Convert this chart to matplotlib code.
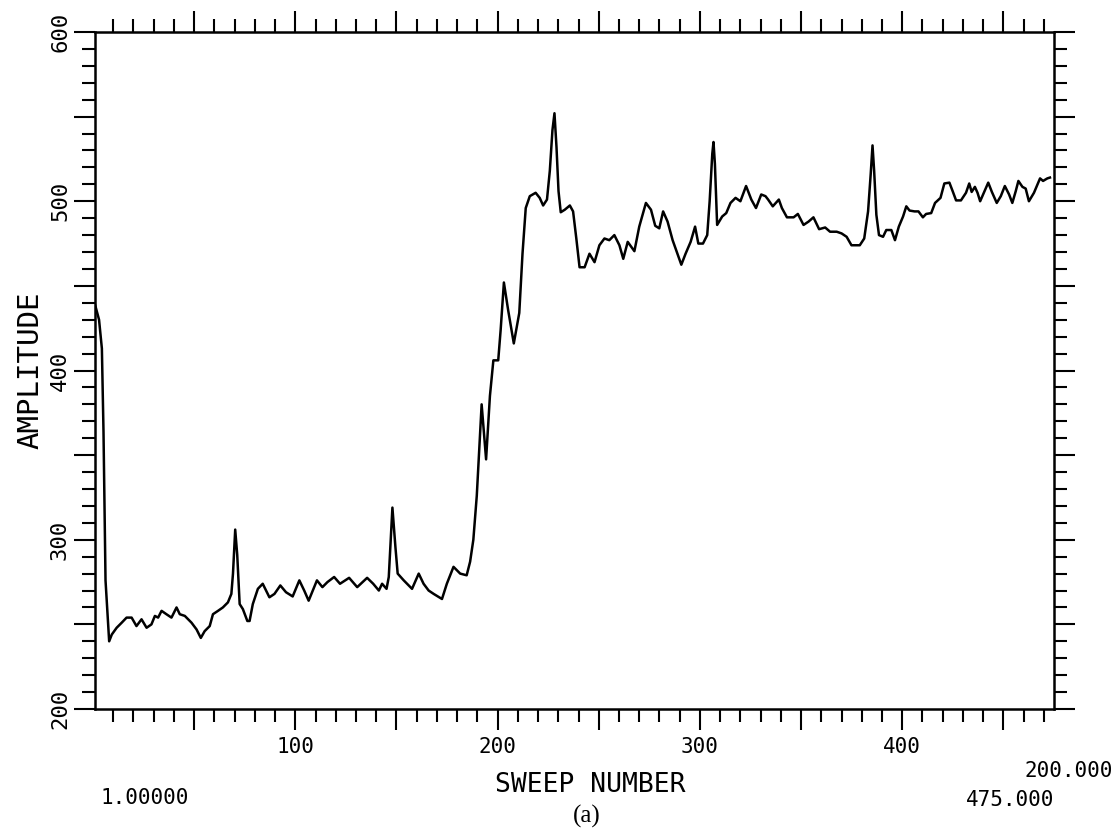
import matplotlib
matplotlib.use('Agg')
import matplotlib.pyplot as plt
from matplotlib.ticker import MultipleLocator, FuncFormatter

# ---- data ----
sweep = [1, 3, 4.4, 5.2, 6.2, 8.0, 9.3, 11.7, 14.2, 16.6, 19.1, 21.5, 24, 26.5, 28.9,
         30.6, 32.2, 33.9, 36.3, 38.8, 41.3, 42.9, 45.4, 48.7, 51.2, 53.3, 55.2, 57.7,
         59.3, 61.8, 64.2, 66.7, 68.4, 69.2, 70.3, 71.3, 72.5, 74.1, 76.3, 77.4, 79,
         81.5, 83.9, 87.2, 89.7, 92.6, 95.4, 98.7, 102, 104.4, 106.6, 110.7, 113.4,
         115.9, 119.2, 122.1, 126.6, 130.6, 135.5, 138.5, 141.3, 142.9, 145.1, 146.2,
         148, 149.5, 150.6, 153.6, 156.1, 157.7, 161, 163.4, 165.9, 168.4, 172.5,
         174.9, 178.2, 181.5, 184.7, 186.4, 188, 189.7, 192.1, 194.3, 196.2, 197.9,
         200.3, 201.5, 203.1, 205.2, 208, 210.7, 212.3, 213.9, 215.9, 218.8, 220.8,
         222.5, 224.4, 225.8, 227.1, 228.1, 229.1, 230.1, 231.2, 233.2, 235.7, 237.3,
         238.9, 240.5, 243, 245.4, 247.9, 250.3, 252.8, 255.2, 257.7, 260.2, 262.1,
         264.3, 267.6, 270, 273.3, 275.8, 277.9, 279.9, 281.8, 284, 286.5, 288.9,
         290.8, 292.9, 295.4, 297.6, 299.2, 301.5, 303.6, 304.8, 306.1, 306.7, 307.4,
         308.5, 311, 313, 315.1, 317.6, 320, 322.8, 325.4, 327.7, 330.3, 332.4, 333.7,
         336, 339, 340.5, 343, 346.3, 348.4, 351.2, 353.7, 356.1, 358.9, 361.9, 364.3,
         367.6, 370, 372.5, 374.9, 379, 381.2, 383.1, 384.4, 385.3, 386.1, 387.2,
         388.5, 390.5, 392.1, 394.6, 396.4, 398.3, 400.4, 402, 403.6, 406.1, 408,
         410.2, 411.8, 414.3, 416.2, 418.9, 420.8, 423.3, 424.9, 426.6, 429, 431.5,
         433.1, 434.3, 435.9, 437.2, 438.5, 440.5, 442.5, 444.3, 446.7, 448.7, 450.7,
         452.8, 454.4, 456.1, 457.4, 459.4, 461, 462.6, 465.1, 468.1, 469.6, 471.7, 473]
amplitude = [439, 430, 413, 364, 276, 240, 244, 248, 251, 254, 254, 249, 253, 248, 250,
             255, 254, 258, 256, 254, 260, 256, 255, 251, 247, 242, 246, 249,
             256, 258, 260, 263, 268, 280, 306, 291, 262, 259, 252, 252, 262,
             271, 274, 266, 268, 273, 269, 266.5, 276, 270, 264, 276, 272,
             275, 278, 274, 277.5, 272, 277.5, 274, 270, 274, 271, 278,
             319, 295.5, 280, 276, 273, 271, 280, 274, 270, 268, 265,
             274, 284, 280, 279, 287, 300, 326, 380, 347.5, 385, 406,
             406, 424, 452, 435.7, 416, 434, 469, 496, 503, 505, 502,
             497.5, 501, 518, 542, 552, 532, 506, 493.5, 495, 497.5, 494,
             478, 461, 461, 469, 464, 474, 478, 477, 480, 474, 466,
             476, 470.5, 485, 499, 495, 485.5, 484, 494, 488, 477, 469,
             462.5, 469, 476, 485, 475, 475, 480, 500, 528, 535, 522,
             486, 491, 493, 499, 502, 500, 509, 501, 496, 504, 503, 501,
             497, 501, 496, 490.5, 490.5, 492.5, 486, 488, 490.5, 483.5, 484.5, 482,
             482, 481, 479, 474, 474, 478, 494, 516, 533, 518, 492,
             480, 479, 483, 483, 477, 485, 491, 497, 494.5, 494, 494,
             490.5, 492.5, 493, 499, 502, 510.5, 511, 506, 500.5, 500.5, 505,
             510.5, 505.5, 508.5, 505, 500, 505.5, 511, 505.5, 499, 503, 509,
             504, 499, 506, 512, 508.5, 507.5, 500, 505, 513.5, 512, 513.5, 514]

x_min, x_max = 1, 475
y_min, y_max = 200, 600
x_label = 'SWEEP NUMBER'
y_label = 'AMPLITUDE'
corner_texts = ['1.00000', '475.000', '200.000']
caption = '(a)'

# ---- figure ----
W, H = 1118, 833
mono = 'DejaVu Sans Mono'
plt.rcParams['font.family'] = mono

fig = plt.figure(figsize=(W / 100, H / 100), dpi=100)
ax = fig.add_axes([95 / W, 1 - 709 / H, (1054 - 95) / W, (709 - 32) / H])

ax.plot(sweep, amplitude, color='black', lw=1.8, solid_joinstyle='round')
ax.set_xlim(x_min, x_max)
ax.set_ylim(y_min, y_max)

ax.xaxis.set_major_locator(MultipleLocator(50))
ax.xaxis.set_minor_locator(MultipleLocator(10))
ax.yaxis.set_major_locator(MultipleLocator(50))
ax.yaxis.set_minor_locator(MultipleLocator(10))
fmt = FuncFormatter(lambda v, p: f'{int(round(v))}' if round(v) % 100 == 0 else '')
ax.xaxis.set_major_formatter(fmt)
ax.yaxis.set_major_formatter(fmt)

for s in ax.spines.values():
    s.set_linewidth(1.8)
ax.tick_params(which='both', direction='out', top=True, right=True,
               width=1.5, colors='black')
ax.tick_params(which='major', length=15)
ax.tick_params(which='minor', length=9.5)
ax.tick_params(axis='x', labelsize=15, pad=5)
ax.tick_params(axis='y', labelsize=16, pad=3, labelrotation=90)
plt.setp(ax.get_yticklabels(), va='center')

fig.text(30 / W, 1 - 370 / H, y_label, rotation=90, ha='center', va='center', fontsize=21)
fig.text(590 / W, 1 - 785 / H, x_label, ha='center', va='center', fontsize=19)
fig.text(145 / W, 1 - 798 / H, corner_texts[0], ha='center', va='center', fontsize=15)
fig.text(1010 / W, 1 - 800 / H, corner_texts[1], ha='center', va='center', fontsize=15)
fig.text(1069 / W, 1 - 771 / H, corner_texts[2], ha='center', va='center', fontsize=15)
fig.text(587 / W, 1 - 816 / H, caption, ha='center', va='center', fontsize=18,
         family='Liberation Serif')

fig.savefig('out.png', dpi=100, facecolor='white')
